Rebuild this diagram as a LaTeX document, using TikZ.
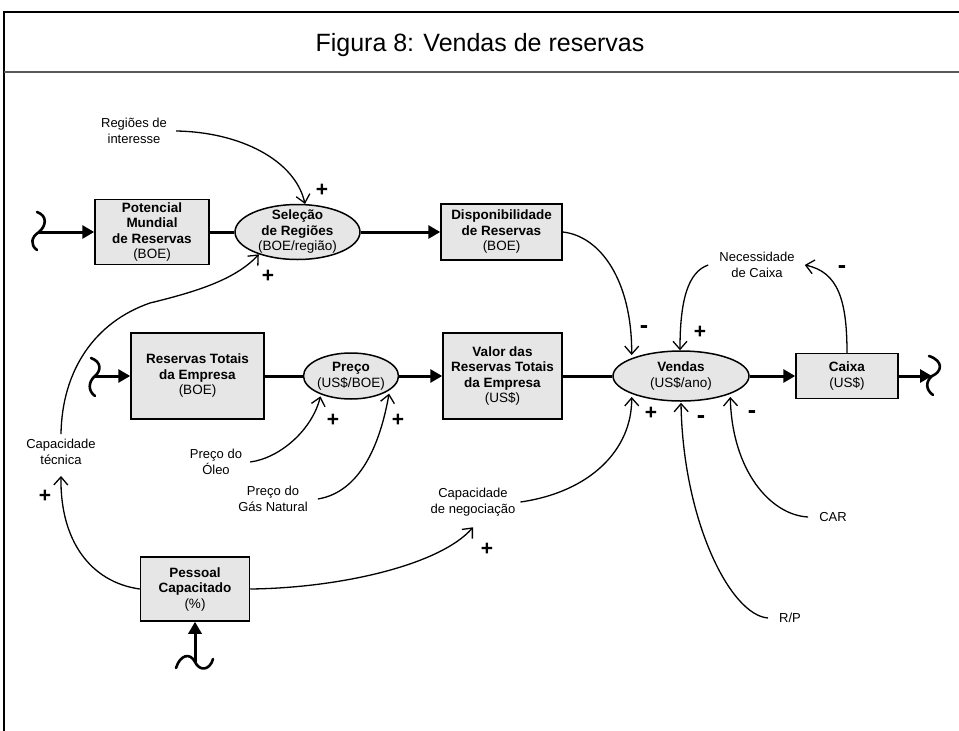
\documentclass[tikz,border=0pt]{standalone}
\usepackage{fontspec}
\setmainfont{Liberation Sans}
\usetikzlibrary{arrows.meta,shapes.geometric}
\definecolor{boxfill}{HTML}{E6E6E6}
\begin{document}
\begin{tikzpicture}[x=1pt,y=-1pt,
  stockbox/.style={draw,line width=1.5pt,fill=boxfill,rectangle,inner sep=0pt,align=center,font=\fontsize{13.5}{15.5}\selectfont},
  ratebox/.style={draw,line width=1.5pt,fill=boxfill,ellipse,inner sep=0pt},
  etxt/.style={align=center,inner sep=0pt,font=\fontsize{13.5}{15.5}\selectfont},
  lbl/.style={align=center,inner sep=0pt,font=\fontsize{13}{16}\selectfont},
  sgn/.style={inner sep=0pt,font=\fontsize{21}{21}\selectfont\bfseries},
  msgn/.style={inner sep=0pt,font=\fontsize{25}{25}\selectfont\bfseries},
  flowarrow/.style={line width=3pt,-{Triangle[length=12pt,width=13pt]}},
  flowline/.style={line width=3pt},
  link/.style={line width=1.3pt,-{Straight Barb[length=8pt,width=14pt]}},
  cloudline/.style={line width=2.6pt,line cap=round}]

\useasboundingbox (0,0) rectangle (959,731);
\fill[white] (0,0) rectangle (959,731);

% frame and title
\draw[line width=1.5pt] (4,731) -- (4,12) -- (959,12);
\draw[line width=2pt,black!65] (4,72) -- (959,72);
\node[inner sep=0pt,font=\fontsize{25}{25}\selectfont] (title) at (480,45) {Figura 8: Vendas de reservas};

% stocks
\node[stockbox,minimum width=114pt,minimum height=65pt] (pot) at (152,232) {\textbf{Potencial}\\\textbf{Mundial}\\\textbf{de Reservas}\\(BOE)};
\node[stockbox,minimum width=121pt,minimum height=56pt] (disp) at (501.5,232) {\textbf{Disponibilidade}\\\textbf{de Reservas}\\(BOE)};
\node[stockbox,minimum width=133pt,minimum height=86pt] (res) at (197.5,376) {\textbf{Reservas Totais}\\\textbf{da Empresa}\\(BOE)};
\node[stockbox,minimum width=119pt,minimum height=86pt] (val) at (502.5,376) {\textbf{Valor das}\\\textbf{Reservas Totais}\\\textbf{da Empresa}\\(US\$)};
\node[stockbox,minimum width=102pt,minimum height=45pt] (caixa) at (847,376) {\textbf{Caixa}\\(US\$)};
\node[stockbox,minimum width=109pt,minimum height=64pt] (pess) at (195,589) {\textbf{Pessoal}\\\textbf{Capacitado}\\(\%)};

% rates
\node[ratebox,minimum width=125pt,minimum height=55pt] (sel) at (297.5,232) {};
\node[etxt] (selt) at (sel) {\textbf{Seleção}\\\textbf{de Regiões}\\(BOE/região)};
\node[ratebox,minimum width=95pt,minimum height=46pt] (preco) at (351,376) {};
\node[etxt] (precot) at (preco) {\textbf{Preço}\\(US\$/BOE)};
\node[ratebox,minimum width=136pt,minimum height=50pt] (vend) at (681,376) {};
\node[etxt] (vendt) at (vend) {\textbf{Vendas}\\(US\$/ano)};

% clouds
\coordinate (c1) at (39,232);
\coordinate (c2) at (95,376);
\coordinate (c3) at (932,376);
\coordinate (c4) at (195,662);
\draw[cloudline] (37,212) .. controls (48,216) and (46,226) .. (c1) .. controls (31,237) and (30,245) .. (37,250);
\draw[cloudline] (91,358) .. controls (102,362) and (101,371) .. (c2) .. controls (88,382) and (88,391) .. (95,396);
\draw[cloudline] (929,356) .. controls (944,361) and (942,372) .. (c3) .. controls (925,382) and (926,390) .. (933,395);
\draw[cloudline] (176,668) .. controls (180,655) and (190,652) .. (c4) .. controls (200,672) and (210,670) .. (213,659);

% flows
\draw[flowarrow] (c1) -- (pot.west);
\draw[flowline] (pot.east) -- (sel.west);
\draw[flowarrow] (sel.east) -- (disp.west);
\draw[flowarrow] (c2) -- (res.west);
\draw[flowline] (res.east) -- (preco.west);
\draw[flowarrow] (preco.east) -- (val.west);
\draw[flowline] (val.east) -- (vend.west);
\draw[flowarrow] (vend.east) -- (caixa.west);
\draw[flowarrow] (caixa.east) -- (c3);
\draw[flowarrow] (c4) -- (pess.south);

% auxiliary labels
\node[lbl] (reg) at (134,131) {Regiões de\\interesse};
\node[lbl] (nec) at (757,265) {Necessidade\\de Caixa};
\node[lbl] (capt) at (61,452) {Capacidade\\técnica};
\node[lbl] (oleo) at (216,462) {Preço do\\Óleo};
\node[lbl] (gas) at (273,499) {Preço do\\Gás Natural};
\node[lbl] (capn) at (473,502) {Capacidade\\de negociação};
\node[lbl] (car) at (833,517) {CAR};
\node[lbl] (rp) at (790,618) {R/P};

% links
\draw[link] ([xshift=9pt]reg.east) .. controls (240,132) and (295,160) .. (sel.75);
\draw[link] ([yshift=5pt]capt.north) .. controls (62,370) and (95,322) .. (150,303) .. controls (195,292) and (235,280) .. (sel.210);
\draw[link] (disp.east) .. controls (600,236) and (632,280) .. ([yshift=3pt]vend.160);
\draw[link] ([xshift=-11pt]nec.west) .. controls (688,272) and (680,300) .. ([xshift=-1pt]vend.north);
\draw[link] (caixa.north) .. controls (847,300) and (838,272) .. ([xshift=10pt]nec.east);
\draw[link] ([xshift=8pt]oleo.east) .. controls (280,458) and (312,430) .. ([yshift=-2pt]preco.211);
\draw[link] ([xshift=10pt]gas.east) .. controls (360,492) and (380,445) .. ([yshift=-3pt]preco.-21);
\draw[link] ([xshift=5pt]capn.east) .. controls (590,492) and (632,450) .. ([yshift=-3pt]vend.200);
\draw[link] ([xshift=-11pt]rp.west) .. controls (730,615) and (683,520) .. ([yshift=-1pt]vend.south);
\draw[link] ([xshift=-11pt]car.west) .. controls (770,515) and (732,470) .. ([yshift=-3pt]vend.-20);
\draw[link] (pess.west) .. controls (90,582) and (60,540) .. ([yshift=-11pt]capt.south);
\draw[link] (pess.east) .. controls (340,588) and (440,565) .. ([yshift=-11pt]capn.south);

% polarity signs
\node[sgn] (p1) at (322,190) {+};
\node[sgn] (p2) at (268,276) {+};
\node[msgn] (p3) at (644,330) {-};
\node[sgn] (p4) at (700,332) {+};
\node[msgn] (p5) at (842,270) {-};
\node[sgn] (p6) at (333,420) {+};
\node[sgn] (p7) at (398,420) {+};
\node[sgn] (p8) at (651,413) {+};
\node[msgn] (p9) at (701,420) {-};
\node[msgn] (p10) at (752,415) {-};
\node[sgn] (p11) at (45,496) {+};
\node[sgn] (p12) at (487,549) {+};
\end{tikzpicture}
\end{document}
